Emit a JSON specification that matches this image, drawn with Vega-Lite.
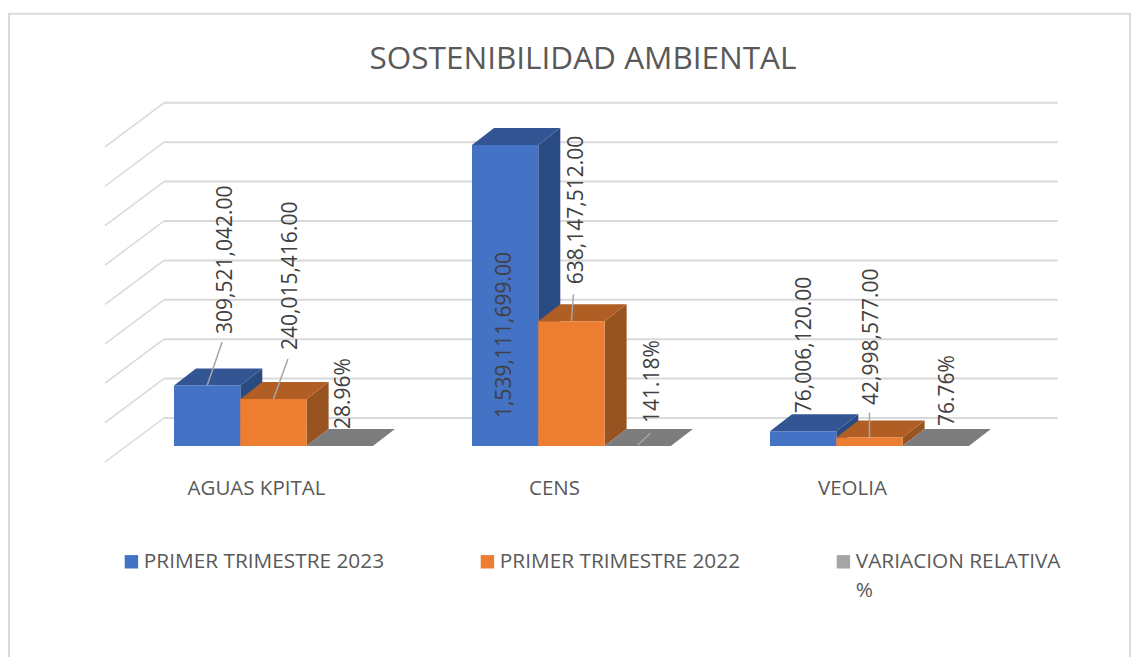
{
"$schema":"https://vega.github.io/schema/vega-lite/v6.json",
"width":1144,"height":657,"padding":0,"autosize":"none",
"background":"white",
"config":{"view":{"stroke":null},"font":"Open Sans"},
"title":{"text":"SOSTENIBILIDAD AMBIENTAL","font":"Open Sans","fontSize":31.5,"fontWeight":"normal","color":"#595959","anchor":"middle","frame":"group","dx":11,"dy":79},
"datasets":{
"barras":[
{"empresa":"AGUAS KPITAL","serie":"PRIMER TRIMESTRE 2023","valor":309521042},
{"empresa":"AGUAS KPITAL","serie":"PRIMER TRIMESTRE 2022","valor":240015416},
{"empresa":"AGUAS KPITAL","serie":"VARIACION RELATIVA %","valor":0.2896},
{"empresa":"CENS","serie":"PRIMER TRIMESTRE 2023","valor":1539111699},
{"empresa":"CENS","serie":"PRIMER TRIMESTRE 2022","valor":638147512},
{"empresa":"CENS","serie":"VARIACION RELATIVA %","valor":1.4118},
{"empresa":"VEOLIA","serie":"PRIMER TRIMESTRE 2023","valor":76006120},
{"empresa":"VEOLIA","serie":"PRIMER TRIMESTRE 2022","valor":42998577},
{"empresa":"VEOLIA","serie":"VARIACION RELATIVA %","valor":0.7676}
],
"rejilla":[{"nivel":0},{"nivel":200000000},{"nivel":400000000},{"nivel":600000000},{"nivel":800000000},{"nivel":1000000000},{"nivel":1200000000},{"nivel":1400000000},{"nivel":1600000000}]
},
"layer":[
{"data":{"values":[{"marco":"borde"}]},
 "mark":{"type":"rect","fill":null,"stroke":"#D9D9D9","strokeWidth":2,"clip":true},
 "encoding":{
  "x":{"datum":-2.489,"type":"quantitative","scale":{"domain":[-2.6244,14.6305],"nice":false,"zero":false},"axis":null},
  "x2":{"datum":14.42},
  "y":{"datum":2210000000,"type":"quantitative","scale":{"domain":[-1078700000,2280200000],"nice":false,"zero":false},"axis":null},
  "y2":{"datum":-1200000000}
 }},
{"data":{"name":"rejilla"},
 "transform":[{"calculate":"143150000+datum.nivel*1.0071","as":"yb"},{"calculate":"datum.yb-225000000","as":"yf"},{"calculate":"-0.151","as":"xa"},{"calculate":"13.33","as":"xb"},{"calculate":"-1.04","as":"xc"}],
 "layer":[
  {"mark":{"type":"rule","stroke":"#D9D9D9","strokeWidth":2},
   "encoding":{"x":{"field":"xa","type":"quantitative","axis":null},"x2":{"field":"xb"},"y":{"field":"yb","type":"quantitative","axis":null}}},
  {"mark":{"type":"rule","stroke":"#D9D9D9","strokeWidth":1.5},
   "encoding":{"x":{"field":"xa","type":"quantitative","axis":null},"x2":{"field":"xc"},"y":{"field":"yb","type":"quantitative","axis":null},"y2":{"field":"yf"}}}
 ]},
{"data":{"name":"barras"},
 "transform":[
  {"calculate":"indexof(['AGUAS KPITAL','CENS','VEOLIA'],datum.empresa)","as":"g"},
  {"calculate":"indexof(['PRIMER TRIMESTRE 2023','PRIMER TRIMESTRE 2022','VARIACION RELATIVA %'],datum.serie)","as":"s"},
  {"calculate":"datum.g+'-'+datum.s","as":"clave"},
  {"calculate":"datum.g*4.4947+datum.s","as":"x0"},
  {"calculate":"datum.x0+1","as":"x1"},
  {"calculate":"0","as":"base"},
  {"calculate":"datum.s==2?format(datum.valor,'.2%'):format(datum.valor,',.2f')","as":"etiqueta"},
  {"calculate":"{'0-0':[17,51.5],'0-1':[15.5,49],'0-2':[2,17],'1-0':[-2,-273],'1-1':[3.5,37],'1-2':[13,23],'2-0':[0,18],'2-1':[0.5,32.6],'2-2':[10,20]}[datum.clave]","as":"aj"},
  {"calculate":"datum.x0+0.5+(datum.aj[0]+2)/66.3","as":"xt"},
  {"calculate":"datum.valor+datum.aj[1]*5112474","as":"yt"}
 ],
 "layer":[
  {"transform":[{"calculate":"[0,1]","as":"t"},{"flatten":["t"]},
    {"calculate":"'side|'+datum.serie","as":"tono"},
    {"calculate":"datum.x1+datum.t*0.332","as":"xs"},
    {"calculate":"datum.t*86900000","as":"ys2"},
    {"calculate":"datum.valor+datum.t*86900000","as":"ys"}],
   "mark":{"type":"area","orient":"vertical"},
   "encoding":{
    "x":{"field":"xs","type":"quantitative","axis":null},
    "y":{"field":"ys","type":"quantitative","axis":null,"stack":null},
    "y2":{"field":"ys2"},
    "detail":{"field":"clave"},
    "color":{"field":"tono","type":"nominal","title":null}
   }},
  {"transform":[{"calculate":"[0,1]","as":"t"},{"flatten":["t"]},
    {"calculate":"'top|'+datum.serie","as":"tono"},
    {"calculate":"datum.x0+datum.t*0.332","as":"xs"},
    {"calculate":"datum.x1+datum.t*0.332","as":"xs2"},
    {"calculate":"datum.valor+datum.t*86900000","as":"ys"}],
   "mark":{"type":"area","orient":"horizontal"},
   "encoding":{
    "x":{"field":"xs","type":"quantitative","axis":null,"stack":null},
    "x2":{"field":"xs2"},
    "y":{"field":"ys","type":"quantitative","axis":null},
    "detail":{"field":"clave"},
    "color":{"field":"tono","type":"nominal","title":null}
   }},
  {"mark":{"type":"rect"},
   "encoding":{
    "x":{"field":"x0","type":"quantitative","axis":null},
    "x2":{"field":"x1"},
    "y":{"field":"valor","type":"quantitative","axis":null},
    "y2":{"field":"base"},
    "color":{"field":"serie","type":"nominal","title":null,
     "scale":{
      "domain":["PRIMER TRIMESTRE 2023","PRIMER TRIMESTRE 2022","VARIACION RELATIVA %","top|PRIMER TRIMESTRE 2023","top|PRIMER TRIMESTRE 2022","top|VARIACION RELATIVA %","side|PRIMER TRIMESTRE 2023","side|PRIMER TRIMESTRE 2022","side|VARIACION RELATIVA %"],
      "range":["#4472C4","#ED7D31","#A5A5A5","#335593","#B15E25","#7C7C7C","#2A4A82","#975420","#6A6A6A"]},
     "legend":{"title":null,"orient":"none","legendX":121,"legendY":551,"columns":3,"columnPadding":92,"symbolType":"square","symbolSize":180,"symbolStrokeWidth":0,"labelFont":"Open Sans","labelFontSize":20.8,"labelColor":"#595959","labelOffset":2,"labelLimit":300,
      "values":["PRIMER TRIMESTRE 2023","PRIMER TRIMESTRE 2022","VARIACION RELATIVA %"],
      "encoding":{"labels":{"lineHeight":{"value":29}}},
      "labelExpr":"datum.label=='VARIACION RELATIVA %'?['VARIACION RELATIVA','%']:[datum.label,' ']"}}
   }},
  {"transform":[{"calculate":"{'0-0':[15,0,43.5],'0-1':[14.5,0,40],'1-1':[2,0,27],'1-2':[13,1,13],'2-1':[0,0,25]}[datum.clave]","as":"guia"},{"filter":"isValid(datum.guia)"},
    {"calculate":"datum.x0+0.5","as":"xg"},
    {"calculate":"datum.x0+0.5+datum.guia[0]/66.3","as":"xg2"},
    {"calculate":"datum.valor+datum.guia[1]*5112474","as":"yg"},
    {"calculate":"datum.valor+datum.guia[2]*5112474","as":"yg2"}],
   "mark":{"type":"rule","stroke":"#A6A6A6","strokeWidth":1.5},
   "encoding":{"x":{"field":"xg","type":"quantitative","axis":null},"x2":{"field":"xg2"},"y":{"field":"yg","type":"quantitative","axis":null},"y2":{"field":"yg2"}}},
  {"mark":{"type":"text","angle":270,"align":"left","baseline":"middle","font":"Open Sans","fontSize":21,"color":"#404040"},
   "encoding":{"x":{"field":"xt","type":"quantitative","axis":null},"y":{"field":"yt","type":"quantitative","axis":null},"text":{"field":"etiqueta"}}},
  {"transform":[{"filter":"datum.s==0"},{"calculate":"datum.g*4.4947+1.244","as":"xc"},{"calculate":"-219800000","as":"yc"}],
   "mark":{"type":"text","align":"center","baseline":"middle","font":"Open Sans","fontSize":20.5,"color":"#595959"},
   "encoding":{"x":{"field":"xc","type":"quantitative","axis":null},"y":{"field":"yc","type":"quantitative","axis":null},"text":{"field":"empresa"}}}
 ]}
]
}
